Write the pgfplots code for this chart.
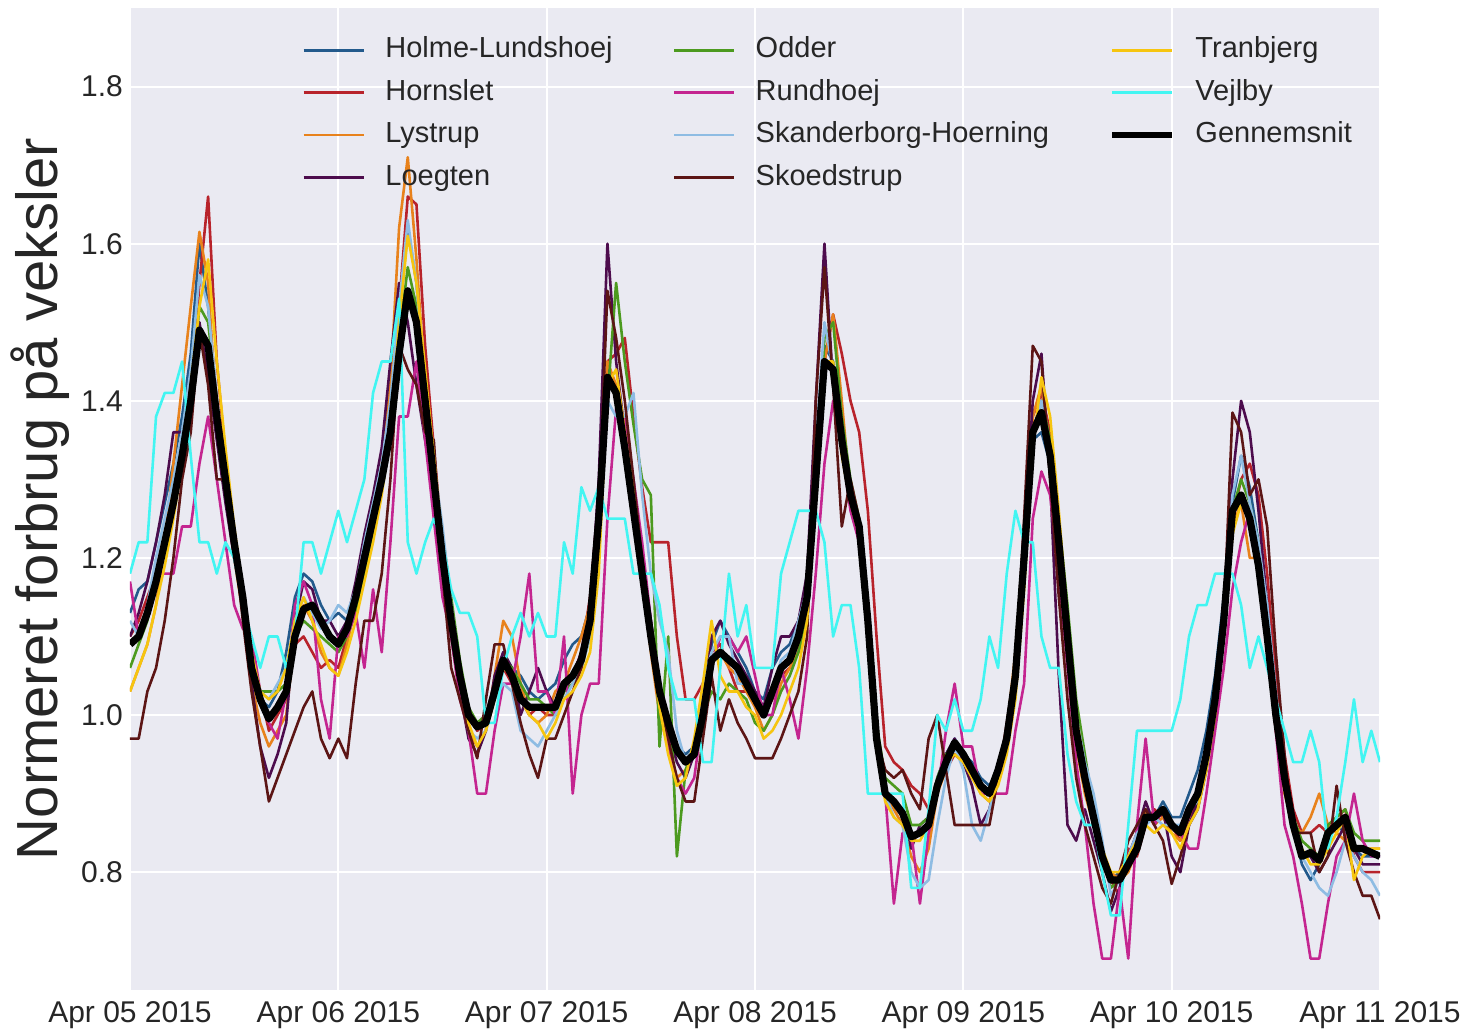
\documentclass[border=0pt]{standalone}
\usepackage{fontspec}
\setmainfont{Liberation Sans}
\usepackage{pgfplots}
\usepackage{pgfplotstable}
\pgfplotsset{compat=1.18}
\usetikzlibrary{calc}

\definecolor{bgc}{HTML}{EAEAF2}
\definecolor{txt}{HTML}{262626}
\definecolor{cHolme}{HTML}{235A8C}
\definecolor{cHorn}{HTML}{B8232B}
\definecolor{cLys}{HTML}{E8821C}
\definecolor{cLoeg}{HTML}{4D0C4D}
\definecolor{cOdd}{HTML}{4C9A1F}
\definecolor{cRund}{HTML}{C42590}
\definecolor{cSkan}{HTML}{8EBCE3}
\definecolor{cSkoe}{HTML}{5C1515}
\definecolor{cTran}{HTML}{F6C510}
\definecolor{cVej}{HTML}{42F5F2}

% hourly values, 5 Apr 00:00 ... 11 Apr 00:00
\pgfplotstableread[row sep=\\,header=false]{
1.13\\1.16\\1.17\\1.22\\1.27\\1.32\\1.38\\1.46\\1.60\\1.52\\1.40\\1.30\\1.22\\1.14\\1.06\\1.02\\1.01\\1.03\\1.08\\1.15\\1.18\\1.17\\1.14\\1.12\\
1.13\\1.12\\1.16\\1.21\\1.26\\1.31\\1.38\\1.50\\1.62\\1.55\\1.42\\1.30\\1.20\\1.12\\1.05\\1.00\\0.98\\1.00\\1.04\\1.08\\1.06\\1.05\\1.03\\1.02\\
1.03\\1.04\\1.07\\1.09\\1.10\\1.14\\1.25\\1.44\\1.42\\1.36\\1.30\\1.20\\1.12\\1.04\\0.99\\0.96\\0.95\\0.96\\1.01\\1.09\\1.12\\1.10\\1.08\\1.06\\
1.03\\1.02\\1.06\\1.08\\1.09\\1.12\\1.16\\1.30\\1.47\\1.45\\1.36\\1.29\\1.24\\1.12\\0.97\\0.90\\0.89\\0.88\\0.84\\0.85\\0.86\\0.92\\0.95\\0.97\\
0.95\\0.94\\0.92\\0.91\\0.93\\0.98\\1.06\\1.20\\1.35\\1.36\\1.32\\1.22\\1.10\\0.99\\0.93\\0.88\\0.82\\0.79\\0.80\\0.82\\0.84\\0.88\\0.87\\0.89\\
0.87\\0.87\\0.90\\0.93\\0.98\\1.05\\1.15\\1.27\\1.33\\1.29\\1.22\\1.12\\1.02\\0.93\\0.86\\0.81\\0.79\\0.81\\0.84\\0.86\\0.85\\0.83\\0.82\\0.82\\0.82\\
}\tHolme
\pgfplotstableread[row sep=\\,header=false]{
1.10\\1.12\\1.15\\1.18\\1.22\\1.27\\1.33\\1.40\\1.55\\1.66\\1.45\\1.33\\1.22\\1.14\\1.08\\1.03\\0.98\\1.00\\1.02\\1.09\\1.10\\1.08\\1.06\\1.07\\
1.06\\1.10\\1.14\\1.19\\1.24\\1.30\\1.38\\1.52\\1.66\\1.65\\1.47\\1.34\\1.22\\1.13\\1.06\\1.01\\0.98\\0.99\\1.02\\1.06\\1.04\\1.02\\1.00\\1.01\\
1.00\\1.00\\1.03\\1.05\\1.08\\1.15\\1.28\\1.45\\1.46\\1.48\\1.38\\1.29\\1.22\\1.22\\1.22\\1.10\\1.02\\1.02\\1.04\\1.08\\1.09\\1.06\\1.03\\1.03\\
1.02\\1.00\\1.02\\1.05\\1.06\\1.08\\1.12\\1.28\\1.45\\1.51\\1.46\\1.40\\1.36\\1.26\\1.10\\0.96\\0.94\\0.93\\0.91\\0.90\\0.88\\0.91\\0.93\\0.95\\
0.94\\0.92\\0.91\\0.90\\0.92\\0.96\\1.04\\1.18\\1.38\\1.41\\1.36\\1.25\\1.12\\0.99\\0.92\\0.86\\0.82\\0.79\\0.77\\0.83\\0.82\\0.86\\0.88\\0.87\\
0.86\\0.84\\0.87\\0.89\\0.94\\1.01\\1.12\\1.25\\1.30\\1.32\\1.28\\1.18\\1.05\\0.95\\0.88\\0.85\\0.85\\0.86\\0.85\\0.87\\0.88\\0.82\\0.80\\0.80\\0.80\\
}\tHorn
\pgfplotstableread[row sep=\\,header=false]{
1.03\\1.06\\1.09\\1.14\\1.22\\1.32\\1.42\\1.52\\1.615\\1.55\\1.38\\1.28\\1.20\\1.13\\1.04\\0.99\\0.96\\0.98\\1.00\\1.10\\1.14\\1.12\\1.08\\1.06\\
1.05\\1.09\\1.14\\1.19\\1.25\\1.32\\1.42\\1.62\\1.71\\1.58\\1.42\\1.30\\1.20\\1.10\\1.03\\0.98\\0.96\\0.98\\1.05\\1.12\\1.10\\1.04\\1.00\\0.99\\
1.00\\1.03\\1.04\\1.07\\1.10\\1.14\\1.26\\1.45\\1.42\\1.34\\1.26\\1.18\\1.08\\1.00\\0.96\\0.92\\0.93\\0.95\\0.99\\1.07\\1.08\\1.06\\1.05\\1.03\\
1.01\\0.98\\1.00\\1.04\\1.06\\1.08\\1.14\\1.30\\1.45\\1.51\\1.40\\1.28\\1.24\\1.12\\0.98\\0.90\\0.88\\0.86\\0.82\\0.80\\0.83\\0.90\\0.93\\0.96\\
0.95\\0.93\\0.90\\0.89\\0.93\\0.98\\1.08\\1.22\\1.38\\1.42\\1.34\\1.22\\1.08\\0.96\\0.90\\0.86\\0.82\\0.80\\0.79\\0.80\\0.83\\0.88\\0.86\\0.87\\
0.85\\0.84\\0.88\\0.90\\0.95\\1.03\\1.12\\1.24\\1.27\\1.20\\1.20\\1.10\\0.98\\0.90\\0.86\\0.85\\0.87\\0.90\\0.86\\0.85\\0.84\\0.83\\0.83\\0.83\\0.83\\
}\tLys
\pgfplotstableread[row sep=\\,header=false]{
1.10\\1.13\\1.17\\1.22\\1.28\\1.36\\1.36\\1.42\\1.50\\1.43\\1.35\\1.27\\1.20\\1.14\\1.04\\0.96\\0.92\\0.95\\0.99\\1.12\\1.17\\1.16\\1.12\\1.12\\
1.10\\1.12\\1.17\\1.23\\1.28\\1.34\\1.45\\1.55\\1.50\\1.42\\1.35\\1.28\\1.18\\1.10\\1.03\\0.97\\0.95\\0.98\\1.05\\1.08\\1.06\\1.00\\1.03\\1.06\\
1.03\\1.01\\1.03\\1.05\\1.08\\1.13\\1.30\\1.60\\1.45\\1.36\\1.28\\1.20\\1.12\\1.04\\0.98\\0.94\\0.92\\0.95\\1.02\\1.10\\1.12\\1.09\\1.07\\1.05\\
1.03\\1.01\\1.06\\1.10\\1.10\\1.12\\1.18\\1.40\\1.60\\1.42\\1.34\\1.27\\1.22\\1.10\\0.96\\0.90\\0.89\\0.88\\0.83\\0.86\\0.87\\0.91\\0.95\\0.97\\
0.94\\0.91\\0.86\\0.88\\0.93\\0.98\\1.05\\1.22\\1.40\\1.46\\1.30\\1.05\\0.86\\0.84\\0.88\\0.84\\0.80\\0.75\\0.78\\0.82\\0.85\\0.89\\0.86\\0.88\\
0.82\\0.80\\0.86\\0.89\\0.95\\1.03\\1.14\\1.30\\1.40\\1.36\\1.26\\1.14\\1.02\\0.92\\0.86\\0.82\\0.82\\0.80\\0.82\\0.84\\0.86\\0.83\\0.81\\0.81\\0.81\\
}\tLoeg
\pgfplotstableread[row sep=\\,header=false]{
1.06\\1.09\\1.12\\1.17\\1.22\\1.27\\1.33\\1.40\\1.52\\1.50\\1.40\\1.30\\1.22\\1.15\\1.07\\1.03\\1.03\\1.03\\1.04\\1.10\\1.12\\1.11\\1.10\\1.09\\
1.08\\1.10\\1.13\\1.18\\1.23\\1.29\\1.36\\1.48\\1.57\\1.52\\1.42\\1.32\\1.23\\1.15\\1.07\\1.01\\0.99\\1.00\\1.03\\1.07\\1.06\\1.04\\1.02\\1.02\\
1.01\\1.00\\1.03\\1.04\\1.06\\1.10\\1.22\\1.40\\1.55\\1.45\\1.37\\1.30\\1.28\\0.96\\1.10\\0.82\\0.93\\0.96\\1.00\\1.03\\1.02\\1.04\\1.03\\1.02\\
0.99\\0.98\\1.00\\1.03\\1.05\\1.08\\1.12\\1.28\\1.48\\1.50\\1.38\\1.30\\1.25\\1.14\\0.99\\0.92\\0.91\\0.90\\0.86\\0.86\\0.87\\0.92\\0.95\\0.96\\
0.95\\0.93\\0.91\\0.90\\0.93\\0.98\\1.06\\1.20\\1.36\\1.40\\1.35\\1.25\\1.14\\1.02\\0.95\\0.88\\0.82\\0.78\\0.79\\0.81\\0.84\\0.87\\0.87\\0.88\\
0.86\\0.85\\0.88\\0.90\\0.96\\1.04\\1.14\\1.26\\1.30\\1.27\\1.22\\1.12\\1.01\\0.93\\0.87\\0.84\\0.83\\0.82\\0.86\\0.87\\0.88\\0.85\\0.84\\0.84\\0.84\\
}\tOdd
\pgfplotstableread[row sep=\\,header=false]{
1.17\\1.10\\1.14\\1.18\\1.18\\1.18\\1.24\\1.24\\1.32\\1.38\\1.30\\1.22\\1.14\\1.11\\1.10\\1.03\\0.99\\0.97\\1.03\\1.14\\1.17\\1.14\\1.02\\0.97\\
1.10\\1.10\\1.13\\1.06\\1.16\\1.08\\1.22\\1.38\\1.38\\1.45\\1.35\\1.25\\1.15\\1.10\\1.02\\0.98\\0.90\\0.90\\0.98\\1.04\\1.04\\1.10\\1.18\\1.03\\
1.03\\1.00\\1.10\\0.90\\1.00\\1.04\\1.04\\1.25\\1.39\\1.38\\1.30\\1.22\\1.12\\1.02\\0.96\\0.92\\0.90\\0.92\\1.00\\1.06\\1.10\\1.10\\1.08\\1.10\\
1.05\\1.00\\1.00\\1.06\\1.02\\0.97\\1.06\\1.18\\1.32\\1.40\\1.34\\1.26\\1.22\\1.10\\0.96\\0.90\\0.76\\0.85\\0.85\\0.76\\0.85\\0.90\\0.98\\1.04\\
0.96\\0.96\\0.90\\0.90\\0.90\\0.90\\0.98\\1.04\\1.25\\1.31\\1.28\\1.18\\1.06\\0.94\\0.86\\0.76\\0.69\\0.69\\0.78\\0.69\\0.86\\0.97\\0.86\\0.88\\
0.86\\0.85\\0.83\\0.83\\0.90\\0.98\\1.06\\1.16\\1.22\\1.26\\1.20\\1.10\\0.98\\0.86\\0.82\\0.76\\0.69\\0.69\\0.76\\0.82\\0.84\\0.90\\0.84\\0.82\\0.82\\
}\tRund
\pgfplotstableread[row sep=\\,header=false]{
1.12\\1.10\\1.14\\1.20\\1.25\\1.30\\1.36\\1.44\\1.56\\1.52\\1.40\\1.30\\1.22\\1.15\\1.07\\1.03\\1.02\\1.04\\1.06\\1.12\\1.15\\1.13\\1.11\\1.12\\
1.14\\1.13\\1.16\\1.22\\1.27\\1.32\\1.40\\1.52\\1.63\\1.55\\1.42\\1.32\\1.24\\1.14\\1.06\\0.98\\0.97\\0.98\\1.02\\1.04\\1.03\\0.98\\0.97\\0.96\\
0.98\\1.00\\1.02\\1.04\\1.06\\1.10\\1.22\\1.40\\1.38\\1.38\\1.41\\1.28\\1.18\\1.12\\1.08\\0.98\\0.94\\0.96\\1.04\\1.08\\1.10\\1.10\\1.04\\1.04\\
1.02\\1.00\\1.03\\1.07\\1.08\\1.12\\1.16\\1.34\\1.50\\1.44\\1.34\\1.28\\1.23\\1.12\\0.98\\0.90\\0.87\\0.86\\0.80\\0.78\\0.79\\0.86\\0.92\\0.96\\
0.93\\0.86\\0.84\\0.88\\0.92\\0.97\\1.04\\1.20\\1.36\\1.40\\1.34\\1.24\\1.12\\1.00\\0.94\\0.90\\0.84\\0.77\\0.79\\0.82\\0.85\\0.86\\0.87\\0.86\\
0.86\\0.86\\0.88\\0.89\\0.95\\1.02\\1.13\\1.28\\1.33\\1.27\\1.22\\1.14\\1.03\\0.93\\0.86\\0.82\\0.80\\0.78\\0.77\\0.80\\0.84\\0.82\\0.80\\0.79\\0.77\\
}\tSkan
\pgfplotstableread[row sep=\\,header=false]{
0.97\\0.97\\1.03\\1.06\\1.12\\1.20\\1.30\\1.36\\1.49\\1.42\\1.30\\1.30\\1.22\\1.12\\1.03\\0.96\\0.89\\0.92\\0.95\\0.98\\1.01\\1.03\\0.97\\0.945\\
0.97\\0.945\\1.04\\1.12\\1.12\\1.18\\1.30\\1.47\\1.44\\1.42\\1.36\\1.35\\1.18\\1.06\\1.02\\0.98\\0.945\\1.02\\1.09\\1.09\\1.04\\0.99\\0.95\\0.92\\
0.97\\0.97\\1.00\\1.03\\1.06\\1.12\\1.26\\1.54\\1.48\\1.40\\1.30\\1.20\\1.10\\1.02\\0.97\\0.92\\0.89\\0.89\\0.97\\1.05\\0.98\\1.02\\0.99\\0.97\\
0.945\\0.945\\0.945\\0.97\\1.00\\1.03\\1.10\\1.40\\1.57\\1.42\\1.24\\1.30\\1.25\\1.12\\0.97\\0.93\\0.92\\0.93\\0.90\\0.88\\0.97\\1.00\\0.93\\0.86\\
0.86\\0.86\\0.86\\0.86\\0.92\\0.99\\1.06\\1.25\\1.47\\1.45\\1.30\\1.15\\1.02\\0.92\\0.86\\0.82\\0.78\\0.76\\0.80\\0.84\\0.86\\0.88\\0.86\\0.84\\
0.785\\0.82\\0.86\\0.88\\0.93\\1.00\\1.12\\1.385\\1.36\\1.28\\1.30\\1.24\\1.08\\0.95\\0.85\\0.85\\0.85\\0.80\\0.82\\0.91\\0.84\\0.80\\0.77\\0.77\\0.74\\
}\tSkoe
\pgfplotstableread[row sep=\\,header=false]{
1.03\\1.06\\1.09\\1.14\\1.19\\1.25\\1.32\\1.42\\1.52\\1.58\\1.45\\1.34\\1.24\\1.16\\1.08\\1.03\\1.02\\1.03\\1.06\\1.12\\1.15\\1.12\\1.09\\1.06\\
1.05\\1.08\\1.12\\1.17\\1.22\\1.28\\1.36\\1.50\\1.61\\1.55\\1.44\\1.33\\1.22\\1.13\\1.05\\0.99\\0.96\\0.98\\1.02\\1.06\\1.05\\1.02\\1.00\\0.99\\
0.97\\0.99\\1.02\\1.03\\1.05\\1.08\\1.18\\1.42\\1.44\\1.36\\1.28\\1.19\\1.10\\1.01\\0.95\\0.91\\0.92\\0.97\\1.04\\1.12\\1.05\\1.03\\1.03\\1.01\\
1.00\\0.97\\0.98\\1.00\\1.03\\1.06\\1.12\\1.30\\1.45\\1.45\\1.33\\1.27\\1.23\\1.10\\0.96\\0.89\\0.87\\0.86\\0.84\\0.84\\0.86\\0.91\\0.94\\0.95\\
0.94\\0.92\\0.90\\0.89\\0.91\\0.95\\1.02\\1.16\\1.34\\1.43\\1.38\\1.26\\1.12\\1.00\\0.93\\0.88\\0.83\\0.80\\0.80\\0.82\\0.84\\0.86\\0.85\\0.86\\
0.85\\0.83\\0.86\\0.88\\0.93\\1.00\\1.10\\1.23\\1.27\\1.25\\1.19\\1.10\\1.00\\0.91\\0.85\\0.83\\0.81\\0.81\\0.83\\0.85\\0.87\\0.79\\0.82\\0.83\\0.83\\
}\tTran
\pgfplotstableread[row sep=\\,header=false]{
1.18\\1.22\\1.22\\1.38\\1.41\\1.41\\1.45\\1.33\\1.22\\1.22\\1.18\\1.22\\1.20\\1.14\\1.10\\1.06\\1.10\\1.10\\1.06\\1.10\\1.22\\1.22\\1.18\\1.22\\
1.26\\1.22\\1.26\\1.30\\1.41\\1.45\\1.45\\1.53\\1.22\\1.18\\1.22\\1.25\\1.22\\1.16\\1.13\\1.13\\1.10\\0.99\\0.99\\1.06\\1.10\\1.13\\1.10\\1.13\\
1.10\\1.10\\1.22\\1.18\\1.29\\1.26\\1.29\\1.25\\1.25\\1.25\\1.18\\1.18\\1.18\\1.14\\1.06\\1.02\\1.02\\1.02\\0.94\\0.94\\1.06\\1.18\\1.10\\1.14\\
1.06\\1.06\\1.06\\1.18\\1.22\\1.26\\1.26\\1.26\\1.22\\1.10\\1.14\\1.14\\1.06\\0.90\\0.90\\0.90\\0.90\\0.90\\0.78\\0.78\\0.88\\1.00\\0.98\\1.02\\
0.98\\0.98\\1.02\\1.10\\1.06\\1.18\\1.26\\1.22\\1.22\\1.10\\1.06\\1.06\\0.95\\0.89\\0.86\\0.86\\0.80\\0.745\\0.745\\0.86\\0.98\\0.98\\0.98\\0.98\\
0.98\\1.02\\1.10\\1.14\\1.14\\1.18\\1.18\\1.18\\1.14\\1.06\\1.10\\1.06\\1.02\\0.98\\0.94\\0.94\\0.98\\0.94\\0.83\\0.87\\0.94\\1.02\\0.94\\0.98\\0.94\\
}\tVej
\pgfplotstableread[row sep=\\,header=false]{
1.09\\1.10\\1.13\\1.17\\1.22\\1.27\\1.33\\1.40\\1.49\\1.47\\1.38\\1.30\\1.22\\1.15\\1.06\\1.02\\0.995\\1.01\\1.03\\1.10\\1.135\\1.14\\1.12\\1.10\\
1.09\\1.11\\1.15\\1.20\\1.25\\1.30\\1.36\\1.46\\1.54\\1.50\\1.40\\1.30\\1.20\\1.12\\1.05\\1.00\\0.985\\0.99\\1.03\\1.07\\1.05\\1.02\\1.01\\1.01\\
1.01\\1.01\\1.04\\1.05\\1.07\\1.12\\1.25\\1.43\\1.41\\1.34\\1.26\\1.18\\1.10\\1.03\\0.99\\0.955\\0.94\\0.95\\1.00\\1.07\\1.08\\1.07\\1.06\\1.04\\
1.02\\1.00\\1.03\\1.06\\1.07\\1.10\\1.15\\1.30\\1.45\\1.44\\1.35\\1.28\\1.24\\1.12\\0.97\\0.90\\0.89\\0.875\\0.845\\0.85\\0.86\\0.91\\0.94\\0.965\\
0.95\\0.93\\0.91\\0.90\\0.93\\0.97\\1.05\\1.20\\1.36\\1.385\\1.33\\1.22\\1.10\\0.98\\0.92\\0.87\\0.82\\0.79\\0.79\\0.81\\0.83\\0.87\\0.87\\0.88\\
0.86\\0.85\\0.88\\0.90\\0.95\\1.02\\1.12\\1.26\\1.28\\1.25\\1.19\\1.10\\1.00\\0.92\\0.86\\0.82\\0.825\\0.815\\0.85\\0.86\\0.87\\0.83\\0.83\\0.825\\0.82\\
}\tAvg

\begin{document}
\begin{tikzpicture}
\begin{axis}[
  scale only axis, width=625pt, height=491pt,
  xmin=0, xmax=144, ymin=0.65, ymax=1.9,
  axis background/.style={fill=bgc},
  axis line style={draw=none},
  major tick length=0pt, tick style={draw=none},
  grid=major, major grid style={draw=white, line width=1pt},
  xtick={0,24,48,72,96,120,144},
  xticklabels={Apr 05 2015,Apr 06 2015,Apr 07 2015,Apr 08 2015,Apr 09 2015,Apr 10 2015,Apr 11 2015},
  xticklabel style={yshift=-2pt},
  ytick={0.8,1.0,1.2,1.4,1.6,1.8},
  yticklabel style={/pgf/number format/.cd,fixed,fixed zerofill,precision=1},
  /pgf/number format/assume math mode=true,
  tick label style={font=\fontsize{15}{18}\selectfont, text=txt},
  ylabel={Normeret forbrug på veksler},
  ylabel style={font=\fontsize{29}{34}\selectfont, text=txt, at={(axis description cs:-0.072,0.5)}, anchor=center},
  legend columns=3,
  legend cell align=left,
  legend style={draw=none, fill=none, at={(axis description cs:0.1376,0.972)}, anchor=north west,
    font=\fontsize{14.5}{17}\selectfont, text=txt, inner sep=0pt,
    nodes={inner sep=0pt, text height=11pt, text depth=3.5pt},
    row sep=6.7pt,
    /tikz/every odd column/.style={column sep=10.2pt},
    /tikz/every even column/.style={column sep=30pt}},
  legend image code/.code={\draw[#1] (0pt,0pt) -- (30pt,0pt);},
  every axis plot/.append style={line join=round},
]
\addplot[cHolme, line width=1.3pt, forget plot] table[x expr=\coordindex, y index=0] {\tHolme};
\addplot[cHorn, line width=1.3pt, forget plot] table[x expr=\coordindex, y index=0] {\tHorn};
\addplot[cLys, line width=1.3pt, forget plot] table[x expr=\coordindex, y index=0] {\tLys};
\addplot[cLoeg, line width=1.3pt, forget plot] table[x expr=\coordindex, y index=0] {\tLoeg};
\addplot[cOdd, line width=1.3pt, forget plot] table[x expr=\coordindex, y index=0] {\tOdd};
\addplot[cRund, line width=1.3pt, forget plot] table[x expr=\coordindex, y index=0] {\tRund};
\addplot[cSkan, line width=1.3pt, forget plot] table[x expr=\coordindex, y index=0] {\tSkan};
\addplot[cSkoe, line width=1.3pt, forget plot] table[x expr=\coordindex, y index=0] {\tSkoe};
\addplot[cTran, line width=1.3pt, forget plot] table[x expr=\coordindex, y index=0] {\tTran};
\addplot[cVej, line width=1.3pt, forget plot] table[x expr=\coordindex, y index=0] {\tVej};
\addplot[black, line width=3.6pt, forget plot] table[x expr=\coordindex, y index=0] {\tAvg};

\addlegendimage{cHolme, line width=1.3pt}\addlegendentry{Holme-Lundshoej}
\addlegendimage{cOdd, line width=1.3pt}\addlegendentry{Odder}
\addlegendimage{cTran, line width=1.3pt}\addlegendentry{Tranbjerg}
\addlegendimage{cHorn, line width=1.3pt}\addlegendentry{Hornslet}
\addlegendimage{cRund, line width=1.3pt}\addlegendentry{Rundhoej}
\addlegendimage{cVej, line width=1.3pt}\addlegendentry{Vejlby}
\addlegendimage{cLys, line width=1.3pt}\addlegendentry{Lystrup}
\addlegendimage{cSkan, line width=1.3pt}\addlegendentry{Skanderborg-Hoerning}
\addlegendimage{black, line width=3pt}\addlegendentry{Gennemsnit}
\addlegendimage{cLoeg, line width=1.3pt}\addlegendentry{Loegten}
\addlegendimage{cSkoe, line width=1.3pt}\addlegendentry{Skoedstrup}
\end{axis}
\pgfresetboundingbox
\path ($(current axis.south west)+(-65pt,-20pt)$) rectangle ($(current axis.north east)+(42pt,4pt)$);
\end{tikzpicture}
\end{document}
